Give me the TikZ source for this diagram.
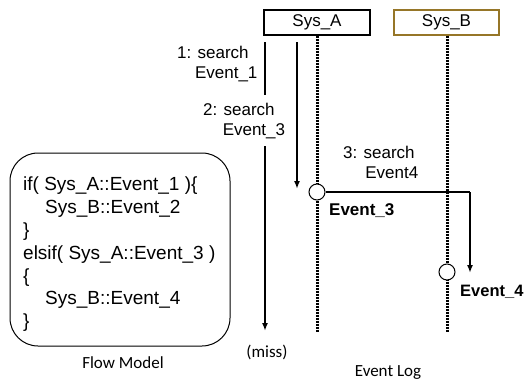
\documentclass[tikz,border=0pt]{standalone}
\usepackage{fontspec}
\setmainfont{Liberation Sans}
\newfontfamily\calfont{Carlito}
\usetikzlibrary{arrows.meta}
\definecolor{sysbgold}{RGB}{150,118,40}
\tikzset{
  sysbox/.style={draw, line width=1.2pt, minimum height=25pt, inner sep=0pt, font=\fontsize{17}{20}\selectfont},
  lifeline/.style={line width=3pt, dash pattern=on 2pt off 1pt},
  evcircle/.style={circle, draw, fill=white, line width=1pt, minimum size=16pt, inner sep=0pt},
  searcharrow/.style={line width=2pt, -{Latex[length=8pt,width=6pt]}},
  searchline/.style={line width=2pt},
  lbl/.style={align=left, inner sep=0pt, anchor=north west, font=\fontsize{17}{19.5}\selectfont},
  evlbl/.style={inner sep=0pt, anchor=west, font=\fontsize{17}{20}\selectfont\bfseries},
  caption/.style={inner sep=0pt, font=\fontsize{17}{20}\calfont}
}
\begin{document}
\begin{tikzpicture}[x=1pt,y=-1pt]
\useasboundingbox (0,0) rectangle (525,383);
% system boxes
\node[sysbox, minimum width=106pt] (sysa) at (317,22.5) {Sys\_A};
\node[sysbox, draw=sysbgold, minimum width=105pt] (sysb) at (446.5,22.5) {Sys\_B};
% lifelines
\coordinate (aend) at (317,332);
\coordinate (bend) at (447,332);
\draw[lifeline] (sysa.south) -- (aend);
\draw[lifeline] (sysb.south -| bend) -- (bend);
% circles
\node[evcircle] (ca) at (317,192) {};
\node[evcircle] (cb) at (447,272) {};
% search 1 / miss line
\coordinate (s1a) at (265,42);
\coordinate (s1b) at (265,95);
\coordinate (s1c) at (265,146);
\coordinate (s1d) at (265,331);
\draw[searchline] (s1a) -- (s1b);
\draw[searcharrow] (s1c) -- (s1d);
% search 2
\coordinate (s2a) at (297,42);
\coordinate (s2b) at (297,189);
\draw[searcharrow] (s2a) -- (s2b);
% search 3
\coordinate (corner) at (470,192);
\coordinate (s3tip) at (470,273);
\draw[line width=1.2pt] (ca.east) -- (corner);
\draw[searcharrow] (corner) -- (s3tip);
% labels
\node[lbl] (l1) at (177,46) {1: search\\\hspace*{1.05em}Event\_1};
\node[lbl] (l2) at (203,103) {2: search\\\hspace*{1.15em}Event\_3};
\node[lbl] (l3) at (343,146) {3: search\\\hspace*{1.3em}Event4};
\node[evlbl] (e3) at (329,211) {Event\_3};
\node[evlbl, font=\fontsize{16.5}{20}\selectfont\bfseries] (e4) at (460,292) {Event\_4};
% flow model
\node[draw, line width=1pt, rounded corners=28pt, minimum width=220pt, minimum height=193pt, inner sep=0pt] (flow) at (120,249.5) {};
\node[align=left, inner sep=0pt, anchor=north west, font=\fontsize{19}{22.8}\selectfont] (code) at (23,177)
{if( Sys\_A::Event\_1 )\{\\\hspace*{22pt}Sys\_B::Event\_2\\\}\\elsif( Sys\_A::Event\_3 )\\\{\\\hspace*{22pt}Sys\_B::Event\_4\\\}};
% captions
\node[caption] (miss) at (267,352) {(miss)};
\node[caption] (fm) at (123,363) {Flow Model};
\node[caption] (el) at (388,373) {Event Log};
\end{tikzpicture}
\end{document}
